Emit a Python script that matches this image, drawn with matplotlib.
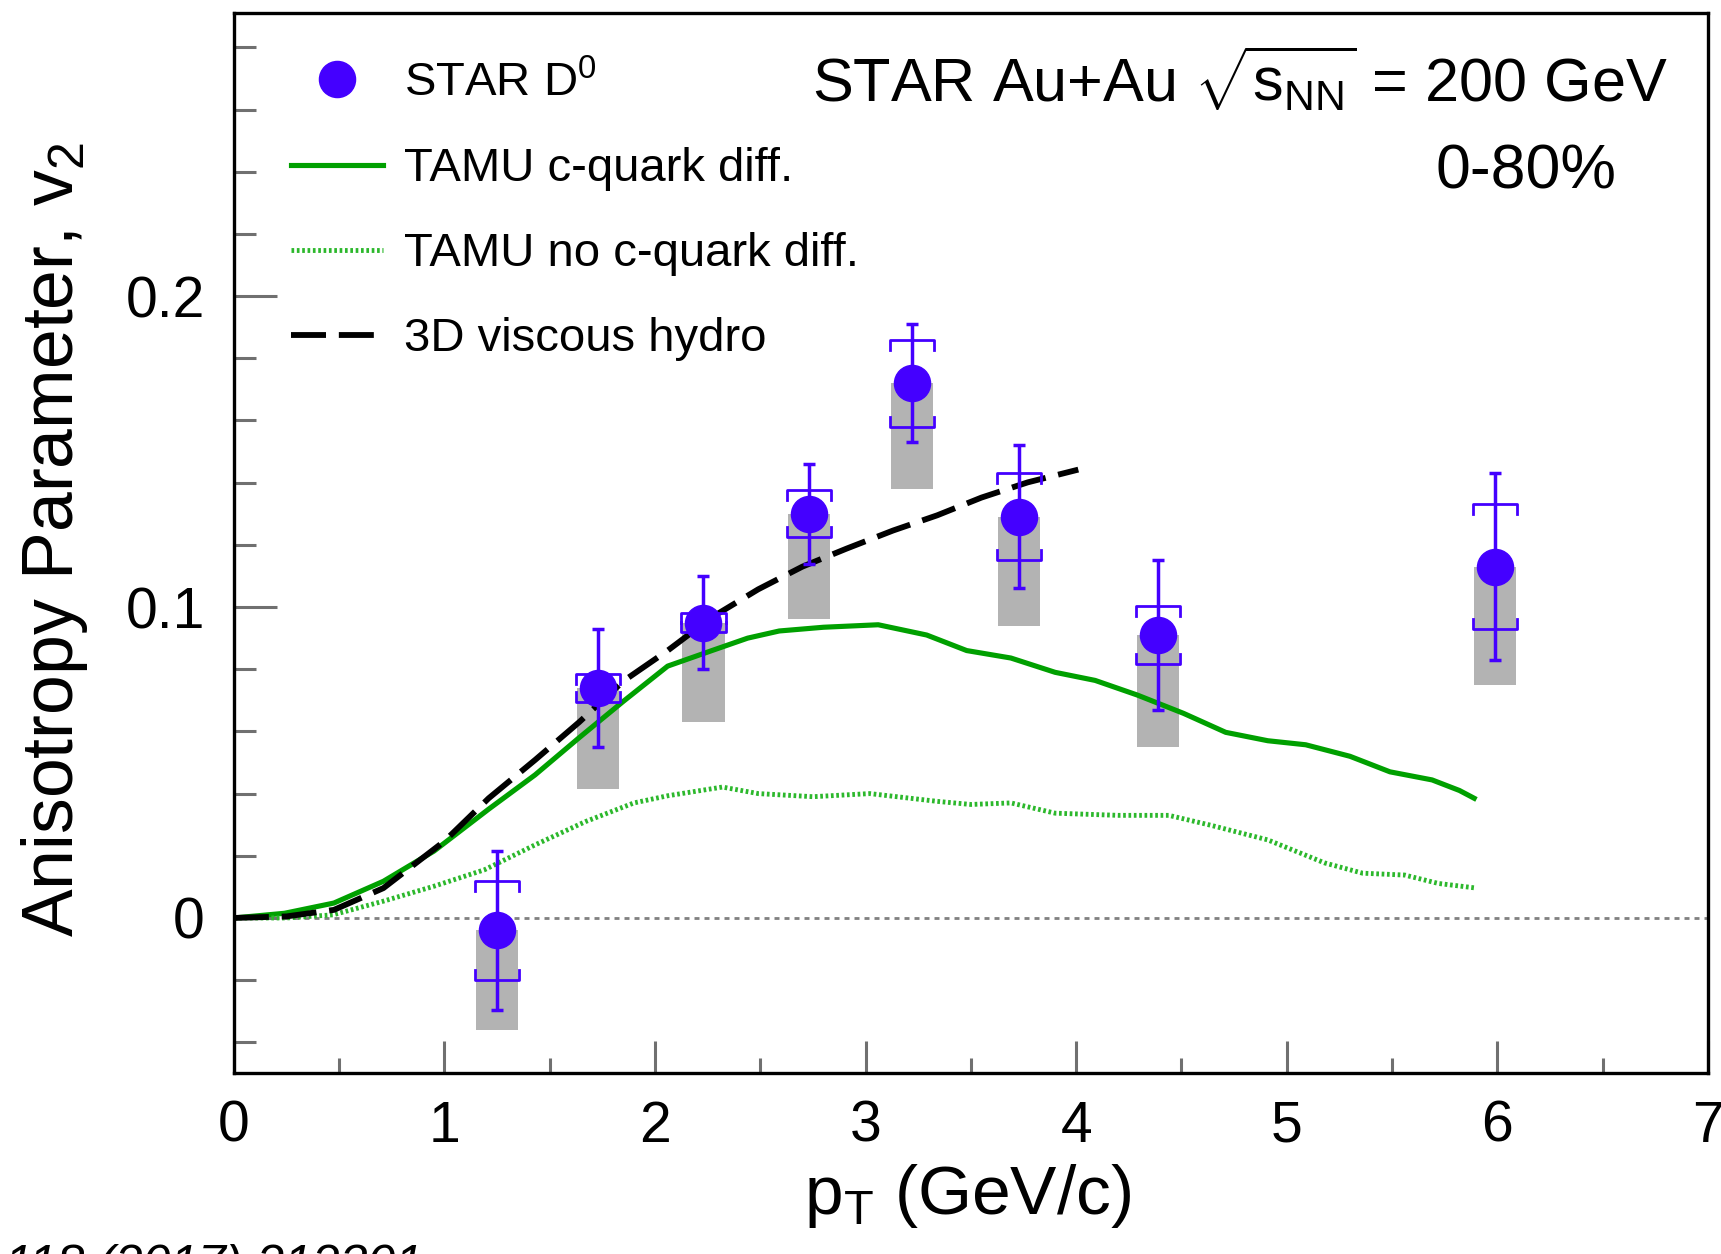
import numpy as np
import matplotlib.pyplot as plt
from matplotlib.lines import Line2D

plt.rcParams['font.family'] = ['Liberation Sans', 'DejaVu Sans']
plt.rcParams['mathtext.fontset'] = 'custom'
plt.rcParams['mathtext.rm'] = 'Liberation Sans'
plt.rcParams['mathtext.it'] = 'Liberation Sans:italic'

# STAR D0 v2, 0-80%
pt = [1.25, 1.73, 2.23, 2.73, 3.22, 3.73, 4.39, 5.99]
v2 = [-0.004, 0.074, 0.095, 0.130, 0.172, 0.129, 0.091, 0.113]
stat = [0.0255, 0.019, 0.015, 0.016, 0.019, 0.023, 0.024, 0.030]
sys = [0.016, 0.0045, 0.003, 0.0075, 0.014, 0.014, 0.0094, 0.020]
nonflow = [0.032, 0.0325, 0.032, 0.034, 0.034, 0.035, 0.036, 0.038]

# TAMU c-quark diffusion
tamu_x = [0, 0.24, 0.475, 0.71, 0.95, 1.21, 1.43, 1.64, 1.85, 2.06, 2.27, 2.44, 2.59,
          2.8, 3.06, 3.29, 3.48, 3.69, 3.90, 4.09, 4.29, 4.51, 4.71, 4.91, 5.09, 5.3,
          5.49, 5.69, 5.82, 5.89]
tamu_y = [0, 0.0015, 0.0048, 0.0118, 0.0215, 0.035, 0.046, 0.058, 0.0697, 0.081, 0.086,
          0.090, 0.0923, 0.0935, 0.0943, 0.091, 0.086, 0.0836, 0.079, 0.0764, 0.0717,
          0.0658, 0.0597, 0.057, 0.0557, 0.052, 0.047, 0.0444, 0.041, 0.0385]

# TAMU without c-quark diffusion
nodiff_x = [0, 0.25, 0.47, 0.71, 0.95, 1.19, 1.43, 1.67, 1.9, 2.06, 2.32, 2.49, 2.75,
            3.02, 3.34, 3.5, 3.69, 3.90, 4.2, 4.44, 4.64, 4.91, 5.18, 5.36, 5.56, 5.72,
            5.89]
nodiff_y = [0, 0.0, 0.001, 0.0054, 0.0102, 0.0155, 0.0235, 0.031, 0.037, 0.0393, 0.0421,
            0.040, 0.039, 0.040, 0.0375, 0.0365, 0.037, 0.0337, 0.033, 0.033, 0.0298,
            0.0251, 0.0177, 0.0144, 0.0138, 0.0111, 0.0097]

# 3D viscous hydro
hydro_x = [0, 0.25, 0.475, 0.71, 1.0, 1.21, 1.43, 1.64, 1.85, 2.06, 2.27, 2.49, 2.70,
           2.91, 3.13, 3.34, 3.55, 3.77, 4.01]
hydro_y = [0, 0.0005, 0.0026, 0.0096, 0.0247, 0.0385, 0.0508, 0.063, 0.0762, 0.086,
           0.0967, 0.1057, 0.113, 0.1188, 0.1246, 0.1295, 0.1352, 0.1401, 0.1442]

blue = '#4400ff'
green = '#00a000'
green_dot = '#2cb82c'

fig = plt.figure(figsize=(17.21, 12.54), dpi=100)
ax = fig.add_axes([0.1359, 0.1440, 0.8565, 0.8455])

ax.axhline(0, color='#808080', lw=2, ls=(0, (1.8, 1.8)), zorder=0.5)

# non-flow bands
ax.bar(pt, [-n for n in nonflow], bottom=v2, width=0.2, color='#b3b3b3', zorder=1)

ax.plot(tamu_x, tamu_y, color=green, lw=3.7, zorder=2)
ax.plot(nodiff_x, nodiff_y, color=green_dot, lw=3.5, ls=(0, (0.55, 0.55)), zorder=2)
ax.plot(hydro_x, hydro_y, color='black', lw=4.2, ls=(0, (6, 2.2)), zorder=2)

# systematic brackets
w = 0.105
tick = 0.0032
for x, y, s in zip(pt, v2, sys):
    for sgn in (1, -1):
        yb = y + sgn * s
        ax.plot([x - w, x - w, x + w, x + w],
                [yb - sgn * tick, yb, yb, yb - sgn * tick],
                color=blue, lw=2.0, zorder=3)

ax.errorbar(pt, v2, yerr=stat, fmt='o', color=blue, ms=26, elinewidth=2.5,
            capsize=4, capthick=2.5, zorder=4)

ax.set_xlim(0, 7)
ax.set_ylim(-0.05, 0.291)
ax.set_xticks(np.arange(0, 8, 1))
ax.set_xticks(np.arange(0.5, 7, 1), minor=True)
ax.set_yticks([0, 0.1, 0.2])
ax.set_yticklabels(['0', '0.1', '0.2'])
ax.set_yticks(np.arange(-0.04, 0.29, 0.02), minor=True)
ax.tick_params(axis='both', which='both', direction='in', color='#707070', width=2.2,
               top=False, right=False)
ax.tick_params(axis='both', which='major', length=23, labelsize=41)
ax.tick_params(axis='both', which='minor', length=11)
ax.tick_params(axis='y', which='major', length=31, pad=21)
ax.tick_params(axis='y', which='minor', length=16)
ax.tick_params(axis='x', which='major', pad=19)
for sp in ax.spines.values():
    sp.set_linewidth(2.4)

fig.text(55 / 1721, 1 - 540 / 1254, 'Anisotropy Parameter, v$_2$', rotation=90,
         ha='center', va='center', fontsize=51.5)
fig.text(968 / 1721, 1 - 1196 / 1254, r'p$_{\mathrm{T}}$ (GeV/c)',
         ha='center', va='center', fontsize=50)

fig.text(812 / 1721, 1 - 80 / 1254, r'STAR Au+Au $\sqrt{\mathrm{s}_{\mathrm{NN}}}$ = 200 GeV',
         ha='left', va='center', fontsize=44)
fig.text(1526 / 1721, 1 - 172 / 1254, '0-80%', ha='center', va='center', fontsize=45)

fig.text(423 / 1721, -0.021, 'Phys. Rev. Lett. 118 (2017) 212301', ha='right',
         va='baseline', fontsize=36, style='italic')

handles = [
    Line2D([], [], marker='o', ls='none', color=blue, ms=26),
    Line2D([], [], color=green, lw=3.7),
    Line2D([], [], color=green_dot, lw=3.5, ls=(0, (0.55, 0.55))),
    Line2D([], [], color='black', lw=4.2, ls=(0, (6, 2.2))),
]
labels = ['STAR D$^0$', 'TAMU c-quark diff.', 'TAMU no c-quark diff.', '3D viscous hydro']
ax.legend(handles, labels, loc='upper left', bbox_to_anchor=(0.0387, 0.955),
          frameon=False, fontsize=34, handlelength=1.95, handletextpad=0.45,
          labelspacing=0.87, borderpad=0, borderaxespad=0)

fig.savefig('out.png', dpi=100)
